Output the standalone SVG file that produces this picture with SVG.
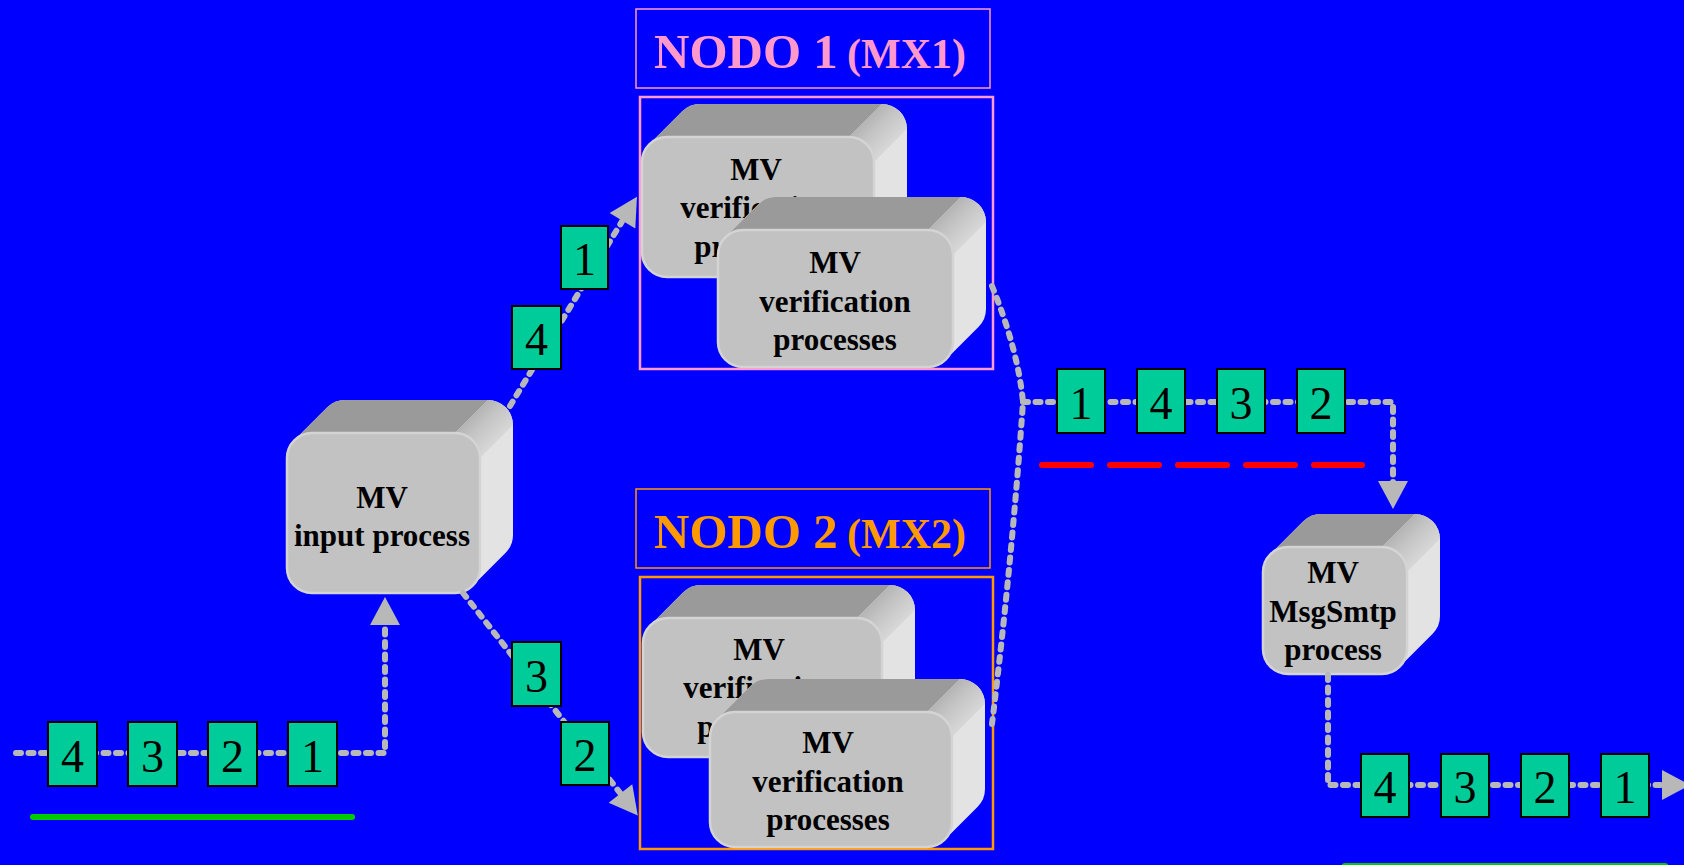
<svg xmlns="http://www.w3.org/2000/svg" width="1684" height="865" viewBox="0 0 1684 865">
  <style>
    .bg { fill: #0000ff; }
    .side { fill: #e3e3e3; }
    .top { fill: #9a9a9a; }
    .band { fill: url(#edgeGrad); }
    .front { fill: #c2c2c2; stroke: #d4d4d4; stroke-width: 2.5; }
    .lbl { font-family: "Liberation Serif", "Times New Roman", serif; font-weight: bold; font-size: 31px; fill: #000; text-anchor: middle; }
    .title { font-family: "Liberation Serif", "Times New Roman", serif; font-weight: bold; }
    .frame1 { fill: none; stroke: #ff99cc; }
    .frame2 { fill: none; stroke: #ff9900; }
    .flow { fill: none; stroke: #b8b8b8; stroke-width: 6; stroke-linecap: round; stroke-linejoin: round; stroke-dasharray: 5 7.5; }
    .tok rect { fill: #00cc99; stroke: #000; stroke-width: 2; }
    .tok text { font-family: "Liberation Serif", "Times New Roman", serif; font-size: 46px; fill: #000; text-anchor: middle; }
    .bar { fill: none; stroke-linecap: round; }
  </style>
  <defs>
    <linearGradient id="edgeGrad" x1="0" y1="0" x2="1" y2="1">
      <stop offset="0" stop-color="#9a9a9a"/>
      <stop offset="0.45" stop-color="#c4c4c4"/>
      <stop offset="1" stop-color="#ececec"/>
    </linearGradient>
    <marker id="arrow" markerUnits="userSpaceOnUse" markerWidth="32" markerHeight="32" refX="2" refY="15" orient="auto" overflow="visible">
      <path d="M0,0 L28,15 L0,30 Z" fill="#b8b8b8"/>
    </marker>
  </defs>

  <rect class="bg" x="0" y="0" width="1684" height="865"/>

  <!-- NODO 1 frame -->
  <g id="nodo1">
    <rect class="frame1" x="636" y="9" width="354" height="79" stroke-width="1.5"/>
    <text class="title" y="68" fill="#ff99cc"><tspan x="654" font-size="49">NODO 1</tspan><tspan x="847" font-size="42">(MX1)</tspan></text>
    <rect class="frame1" x="640" y="97" width="353" height="272" stroke-width="2.5"/>

    <g id="mx1-verif-a" transform="translate(642,137)">
      <path class="side" d="M0,25 A25,25 0 0 1 7.3,7.3 L40.3,-25.7 A25,25 0 0 1 58,-33 L240,-33 A25,25 0 0 1 265,-8 L265,82 A25,25 0 0 1 257.7,99.7 L224.7,132.7 A25,25 0 0 1 207,140 L25,140 A25,25 0 0 1 0,115 Z"/>
      <path class="top" d="M7.3,7.3 L40.3,-25.7 A25,25 0 0 1 58,-33 L240,-33 L207,0 L25,0 A25,25 0 0 0 7.3,7.3 Z"/>
      <path class="band" d="M240,-33 A25,25 0 0 1 265,-8 L232,25 A25,25 0 0 0 207,0 Z"/>
      <rect class="front" x="0" y="0" width="232" height="140" rx="25"/>
      <text class="lbl" x="114" y="43">MV</text>
      <text class="lbl" x="114" y="81">verification</text>
      <text class="lbl" x="114" y="120">processes</text>
    </g>

    <g id="mx1-verif-b" transform="translate(718,230)">
      <path class="side" d="M0,25 A25,25 0 0 1 7.3,7.3 L40.3,-25.7 A25,25 0 0 1 58,-33 L243,-33 A25,25 0 0 1 268,-8 L268,79 A25,25 0 0 1 260.7,96.7 L227.7,129.7 A25,25 0 0 1 210,137 L25,137 A25,25 0 0 1 0,112 Z"/>
      <path class="top" d="M7.3,7.3 L40.3,-25.7 A25,25 0 0 1 58,-33 L243,-33 L210,0 L25,0 A25,25 0 0 0 7.3,7.3 Z"/>
      <path class="band" d="M243,-33 A25,25 0 0 1 268,-8 L235,25 A25,25 0 0 0 210,0 Z"/>
      <rect class="front" x="0" y="0" width="235" height="137" rx="25"/>
      <text class="lbl" x="117" y="43">MV</text>
      <text class="lbl" x="117" y="82">verification</text>
      <text class="lbl" x="117" y="120">processes</text>
    </g>
  </g>

  <!-- NODO 2 frame -->
  <g id="nodo2">
    <rect class="frame2" x="636" y="489" width="354" height="79" stroke-width="1.5"/>
    <text class="title" y="548" fill="#ff9900"><tspan x="654" font-size="49">NODO 2</tspan><tspan x="847" font-size="42">(MX2)</tspan></text>
    <rect class="frame2" x="640" y="577" width="353" height="272" stroke-width="2.5"/>

    <g id="mx2-verif-a" transform="translate(643,618)">
      <path class="side" d="M0,25 A25,25 0 0 1 7.3,7.3 L40.3,-25.7 A25,25 0 0 1 58,-33 L247,-33 A25,25 0 0 1 272,-8 L272,81 A25,25 0 0 1 264.7,98.7 L231.7,131.7 A25,25 0 0 1 214,139 L25,139 A25,25 0 0 1 0,114 Z"/>
      <path class="top" d="M7.3,7.3 L40.3,-25.7 A25,25 0 0 1 58,-33 L247,-33 L214,0 L25,0 A25,25 0 0 0 7.3,7.3 Z"/>
      <path class="band" d="M247,-33 A25,25 0 0 1 272,-8 L239,25 A25,25 0 0 0 214,0 Z"/>
      <rect class="front" x="0" y="0" width="239" height="139" rx="25"/>
      <text class="lbl" x="116" y="42">MV</text>
      <text class="lbl" x="116" y="80">verification</text>
      <text class="lbl" x="116" y="119">processes</text>
    </g>

    <g id="mx2-verif-b" transform="translate(710,712)">
      <path class="side" d="M0,25 A25,25 0 0 1 7.3,7.3 L40.3,-25.7 A25,25 0 0 1 58,-33 L250,-33 A25,25 0 0 1 275,-8 L275,77 A25,25 0 0 1 267.7,94.7 L234.7,127.7 A25,25 0 0 1 217,135 L25,135 A25,25 0 0 1 0,110 Z"/>
      <path class="top" d="M7.3,7.3 L40.3,-25.7 A25,25 0 0 1 58,-33 L250,-33 L217,0 L25,0 A25,25 0 0 0 7.3,7.3 Z"/>
      <path class="band" d="M250,-33 A25,25 0 0 1 275,-8 L242,25 A25,25 0 0 0 217,0 Z"/>
      <rect class="front" x="0" y="0" width="242" height="135" rx="25"/>
      <text class="lbl" x="118" y="41">MV</text>
      <text class="lbl" x="118" y="80">verification</text>
      <text class="lbl" x="118" y="118">processes</text>
    </g>
  </g>

  <!-- input process -->
  <g id="input-process" transform="translate(287,433)">
    <path class="side" d="M0,25 A25,25 0 0 1 7.3,7.3 L40.3,-25.7 A25,25 0 0 1 58,-33 L201,-33 A25,25 0 0 1 226,-8 L226,102 A25,25 0 0 1 218.7,119.7 L185.7,152.7 A25,25 0 0 1 168,160 L25,160 A25,25 0 0 1 0,135 Z"/>
    <path class="top" d="M7.3,7.3 L40.3,-25.7 A25,25 0 0 1 58,-33 L201,-33 L168,0 L25,0 A25,25 0 0 0 7.3,7.3 Z"/>
    <path class="band" d="M201,-33 A25,25 0 0 1 226,-8 L193,25 A25,25 0 0 0 168,0 Z"/>
    <rect class="front" x="0" y="0" width="193" height="160" rx="25"/>
    <text class="lbl" x="95" y="75">MV</text>
    <text class="lbl" x="95" y="113">input process</text>
  </g>

  <!-- MsgSmtp process -->
  <g id="msgsmtp-process" transform="translate(1263,547)">
    <path class="side" d="M0,25 A25,25 0 0 1 7.3,7.3 L40.3,-25.7 A25,25 0 0 1 58,-33 L152,-33 A25,25 0 0 1 177,-8 L177,69 A25,25 0 0 1 169.7,86.7 L136.7,119.7 A25,25 0 0 1 119,127 L25,127 A25,25 0 0 1 0,102 Z"/>
    <path class="top" d="M7.3,7.3 L40.3,-25.7 A25,25 0 0 1 58,-33 L152,-33 L119,0 L25,0 A25,25 0 0 0 7.3,7.3 Z"/>
    <path class="band" d="M152,-33 A25,25 0 0 1 177,-8 L144,25 A25,25 0 0 0 119,0 Z"/>
    <rect class="front" x="0" y="0" width="144" height="127" rx="25"/>
    <text class="lbl" x="70" y="36">MV</text>
    <text class="lbl" x="70" y="75">MsgSmtp</text>
    <text class="lbl" x="70" y="113">process</text>
  </g>

  <!-- message flow -->
  <g id="connectors">
    <path class="flow" d="M16,753 H385 V623" marker-end="url(#arrow)"/>
    <path class="flow" d="M510,406 L623.5,219" marker-end="url(#arrow)"/>
    <path class="flow" d="M463,593 L621.7,795" marker-end="url(#arrow)"/>
    <path class="flow" d="M992,286 Q1018,350 1023,402"/>
    <path class="flow" d="M992,724 Q1012,560 1023,402"/>
    <path class="flow" d="M1023,402 H1393 V483" marker-end="url(#arrow)"/>
    <path class="flow" d="M1328,675 V785 H1664" marker-end="url(#arrow)"/>
  </g>

  <!-- messages travelling along the flow -->
  <g id="queue-in" class="tok">
    <rect x="48" y="722" width="49" height="64"/><text x="72.5" y="772">4</text>
    <rect x="128" y="722" width="49" height="64"/><text x="152.5" y="772">3</text>
    <rect x="208" y="722" width="49" height="64"/><text x="232.5" y="772">2</text>
    <rect x="288" y="722" width="49" height="64"/><text x="312.5" y="772">1</text>
  </g>
  <g id="queue-mx1" class="tok">
    <rect x="512" y="306" width="49" height="63"/><text x="536.5" y="355">4</text>
    <rect x="561" y="226" width="47" height="63"/><text x="584.5" y="275">1</text>
  </g>
  <g id="queue-mx2" class="tok">
    <rect x="512" y="642" width="49" height="64"/><text x="536.5" y="692">3</text>
    <rect x="561" y="722" width="48" height="63"/><text x="585" y="771">2</text>
  </g>
  <g id="queue-merged" class="tok">
    <rect x="1057" y="369" width="48" height="64"/><text x="1081" y="419">1</text>
    <rect x="1137" y="369" width="48" height="64"/><text x="1161" y="419">4</text>
    <rect x="1217" y="369" width="48" height="64"/><text x="1241" y="419">3</text>
    <rect x="1297" y="369" width="48" height="64"/><text x="1321" y="419">2</text>
  </g>
  <g id="queue-out" class="tok">
    <rect x="1361" y="754" width="48" height="63"/><text x="1385" y="803">4</text>
    <rect x="1441" y="754" width="48" height="63"/><text x="1465" y="803">3</text>
    <rect x="1521" y="754" width="48" height="63"/><text x="1545" y="803">2</text>
    <rect x="1601" y="754" width="48" height="63"/><text x="1625" y="803">1</text>
  </g>

  <!-- order markers -->
  <g id="order-bars">
    <path class="bar" d="M33,817 H352" stroke="#00cc00" stroke-width="6"/>
    <path class="bar" d="M1042,465 H1362" stroke="#ff0000" stroke-width="6" stroke-dasharray="49 19"/>
    <path class="bar" d="M1345,866.5 H1665" stroke="#00cc00" stroke-width="7"/>
  </g>
</svg>
